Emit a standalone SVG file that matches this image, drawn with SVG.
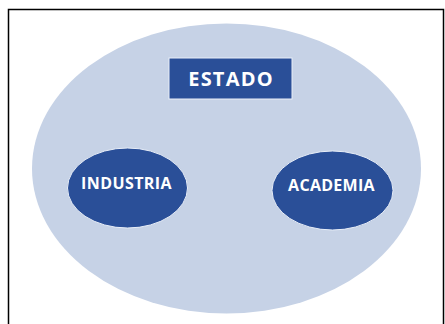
<svg xmlns="http://www.w3.org/2000/svg" width="445" height="324" viewBox="0 0 445 324">
<style>
.node{fill:#2a4f98;stroke:#e8eef8;stroke-width:1}
.lbl{font-family:"Open Sans","DejaVu Sans",sans-serif;font-weight:bold;fill:#ffffff;text-anchor:middle}
</style>
<rect x="0" y="0" width="445" height="324" fill="#ffffff"/>
<rect x="8.5" y="9.5" width="435" height="330" fill="none" stroke="#000000" stroke-width="1.5"/>
<g id="outer">
<ellipse cx="226.5" cy="168.5" rx="194.5" ry="145" fill="#c6d2e6"/>
</g>
<g id="connectors"></g>
<g id="estado">
<rect class="node" x="169" y="58" width="123" height="41"/>
<text class="lbl" x="231" y="86" font-size="20" letter-spacing="1.2">ESTADO</text>
</g>
<g id="industria">
<ellipse class="node" cx="127.5" cy="188" rx="60" ry="40"/>
<text class="lbl" x="126.5" y="189" font-size="16" letter-spacing="0.4">INDUSTRIA</text>
</g>
<g id="academia">
<ellipse class="node" cx="332.5" cy="190.5" rx="60.5" ry="39.5"/>
<text class="lbl" x="331.5" y="191" font-size="16" letter-spacing="0.3">ACADEMIA</text>
</g>
</svg>
